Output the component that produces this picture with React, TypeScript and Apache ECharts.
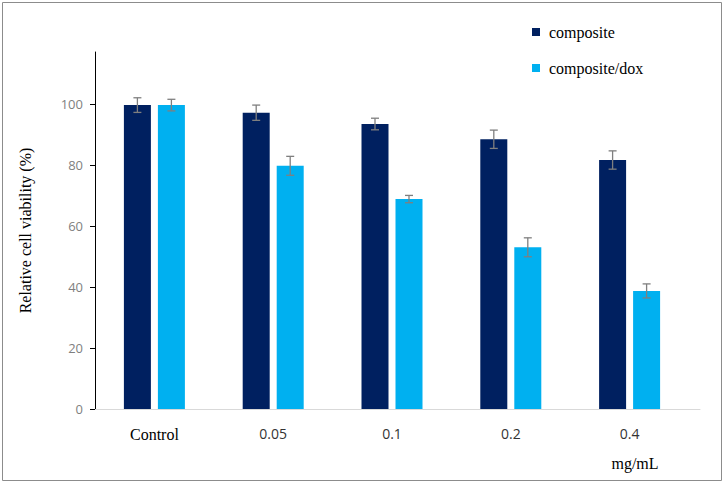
import React, { useEffect, useRef } from "react";
import * as echarts from "echarts";

const categories = ["Control", "0.05", "0.1", "0.2", "0.4"];
const composite = [99.6, 97.1, 93.4, 88.4, 81.6];
const compositeDox = [99.6, 79.7, 68.8, 53.0, 38.7];
const compositeErr = [2.4, 2.5, 1.9, 3.0, 3.0];
const compositeDoxErr = [1.9, 3.1, 1.2, 3.1, 2.3];
const yTicks = [0, 20, 40, 60, 80, 100];

const BAR_W = 27;
const GAP = 7;
const OFF = (BAR_W + GAP) / 2;

function errSeries(name: string, vals: number[], errs: number[], offset: number) {
  return {
    type: "custom",
    name,
    xAxisIndex: 0,
    yAxisIndex: 0,
    z: 5,
    data: vals.map((v, i) => [i, v - errs[i], v + errs[i]]),
    encode: { x: 0, y: [1, 2] },
    renderItem: (params: any, api: any) => {
      const idx = api.value(0);
      const lo = api.coord([idx, api.value(1)]);
      const hi = api.coord([idx, api.value(2)]);
      const x = lo[0] + offset;
      const cap = 4;
      const style = { stroke: "#7f7f7f", lineWidth: 1.3 };
      return {
        type: "group",
        children: [
          { type: "line", shape: { x1: x, y1: lo[1], x2: x, y2: hi[1] }, style },
          { type: "line", shape: { x1: x - cap, y1: lo[1], x2: x + cap, y2: lo[1] }, style },
          { type: "line", shape: { x1: x - cap, y1: hi[1], x2: x + cap, y2: hi[1] }, style },
        ],
      };
    },
  };
}

export default function App() {
  const ref = useRef<HTMLDivElement>(null);
  useEffect(() => {
    if (!ref.current) return;
    const chart = echarts.init(ref.current, null, { renderer: "svg" });
    const serif = "Liberation Serif";
    const sans = "Open Sans";
    chart.setOption({
      animation: false,
      backgroundColor: "#ffffff",
      legend: {
        data: ["composite", "composite/dox"],
        orient: "vertical",
        left: 527,
        top: 19,
        itemWidth: 8,
        itemHeight: 8,
        itemGap: 20,
        icon: "rect",
        textStyle: { fontFamily: serif, fontSize: 16, color: "#000", padding: [0, 0, 0, 4] },
      },
      grid: [
        { left: 95, top: 52, bottom: 74, width: 594 },
        { left: 95, top: 52, bottom: 74, width: 605 },
      ],
      xAxis: [
        {
          type: "category",
          gridIndex: 0,
          data: categories,
          axisLine: { show: false },
          axisTick: { show: false },
          axisLabel: {
            margin: 17,
            formatter: (v: string) => (v === "Control" ? `{s|${v}}` : `{n|${v}}`),
            rich: {
              s: { fontFamily: serif, fontSize: 16, color: "#000" },
              n: { fontFamily: sans, fontSize: 14, color: "#333333" },
            },
          },
        },
        {
          type: "value",
          gridIndex: 1,
          min: 0,
          max: 1,
          axisLine: { show: true, lineStyle: { color: "#d9d9d9", width: 1 } },
          axisTick: { show: false },
          axisLabel: { show: false },
          splitLine: { show: false },
        },
      ],
      yAxis: [
        {
          type: "value",
          gridIndex: 0,
          min: 0,
          max: 117,
          interval: 20,
          name: "Relative cell viability (%)",
          nameLocation: "middle",
          nameGap: 62,
          nameRotate: 90,
          nameTextStyle: { fontFamily: serif, fontSize: 16, color: "#000" },
          axisLine: { show: true, lineStyle: { color: "#000", width: 1 } },
          axisTick: {
            show: true,
            inside: false,
            length: 5,
            customValues: yTicks,
            lineStyle: { color: "#000" },
          },
          axisLabel: {
            margin: 12,
            customValues: yTicks,
            fontFamily: sans,
            fontSize: 13,
            color: "#7f7f7f",
          },
          splitLine: { show: false },
        },
        {
          type: "value",
          gridIndex: 1,
          show: false,
          min: 0,
          max: 1,
        },
      ],
      series: [
        {
          type: "bar",
          name: "composite",
          data: composite,
          barWidth: BAR_W,
          barGap: `${(GAP / BAR_W) * 100}%`,
          itemStyle: { color: "#002060" },
        },
        {
          type: "bar",
          name: "composite/dox",
          data: compositeDox,
          barWidth: BAR_W,
          barGap: `${(GAP / BAR_W) * 100}%`,
          itemStyle: { color: "#00b0f0" },
        },
        errSeries("err1", composite, compositeErr, -OFF),
        errSeries("err2", compositeDox, compositeDoxErr, OFF),
      ],
      graphic: [
        {
          type: "rect",
          shape: { x: 2.5, y: 2.5, width: 719, height: 478 },
          style: { fill: "none", stroke: "#8c8c8c", lineWidth: 1 },
          silent: true,
        },
        {
          type: "text",
          x: 635,
          y: 463,
          style: {
            text: "mg/mL",
            fontFamily: serif,
            fontSize: 16,
            fill: "#000",
            align: "center",
            verticalAlign: "middle",
          },
        },
      ],
    });
    return () => chart.dispose();
  }, []);
  return (
    <div
      ref={ref}
      style={{ position: "fixed", left: 0, top: 0, width: 724, height: 483 }}
    />
  );
}
